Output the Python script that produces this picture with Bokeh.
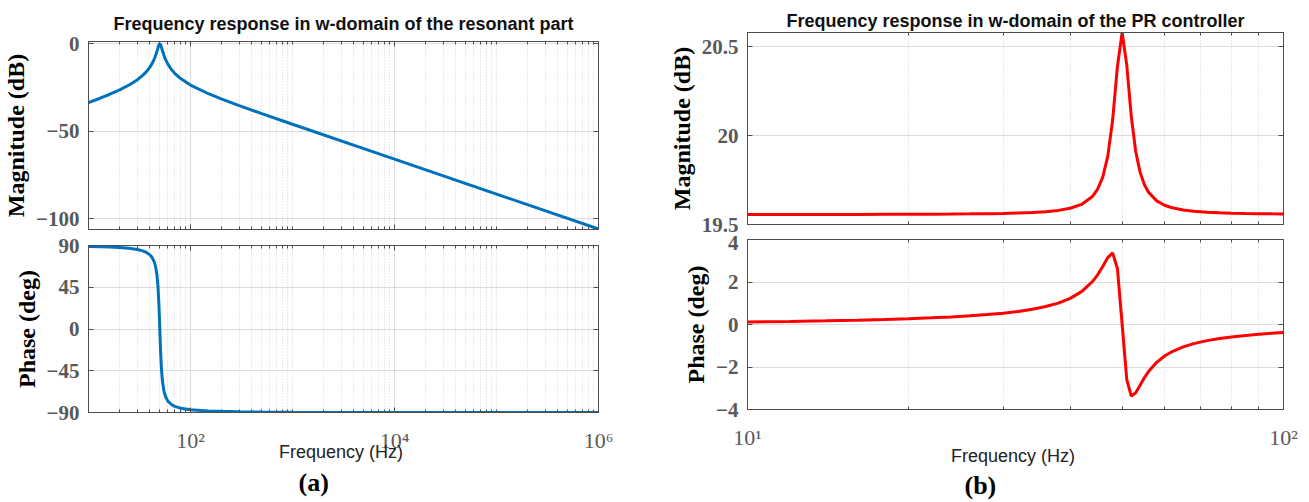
from bokeh.plotting import figure
from bokeh.models import FixedTicker, Range1d, LinearAxis, LogAxis, Title
from bokeh.layouts import row, column
from bokeh.embed import file_html
from bokeh.resources import INLINE

# ---------------- data ----------------
res_freq = [10, 13, 16, 20, 25, 30, 34, 37, 40, 42, 44, 45, 46, 47, 48, 49, 49.5, 50,
            50.5, 51, 52, 53, 55, 57, 60, 65, 70, 80, 100, 150, 200, 300, 500, 1000,
            1e4, 1e5, 1e6]
res_mag_db = [-33.63, -31.10, -28.96, -26.45, -23.54, -20.60, -18.03, -15.84, -13.27,
              -11.23, -8.79, -7.37, -5.78, -4.04, -2.22, -0.66, -0.17, 0.0, -0.17, -0.63,
              -2.08, -3.73, -6.67, -8.98, -11.60, -14.65, -16.81, -19.83, -23.54, -28.52,
              -31.48, -35.32, -39.91, -46.00, -66.02, -86.02, -106.02]
res_phase_deg = [89.05, 88.72, 88.37, 87.82, 86.95, 85.71, 84.22, 82.54, 79.92, 77.14,
                 72.67, 69.24, 64.40, 57.14, 45.59, 26.80, 14.10, 0.0, -13.97, -26.34,
                 -44.44, -55.55, -67.27, -73.07, -77.69, -81.43, -83.35, -85.31, -86.95,
                 -88.28, -88.78, -89.21, -89.54, -89.77, -89.98, -90.0, -90.0]

pr_freq = [10, 12, 14, 16, 18, 20, 22, 24, 26, 28, 30, 32, 34, 36, 38, 40, 42, 44,
           45, 46, 47, 48, 49, 50, 51, 52, 53, 54, 55, 56,
           58, 60, 62, 65, 68, 72, 76, 80, 85, 90, 95, 100]
pr_mag_db = [19.5563, 19.5565, 19.5567, 19.5569, 19.5573, 19.5577, 19.5582, 19.5589,
             19.5598, 19.5609, 19.5625, 19.5647, 19.5677, 19.5723, 19.5794, 19.5913,
             19.6128, 19.6573,
             19.6987, 19.7665, 19.8834, 20.0876, 20.3906, 20.58, 20.3967, 20.108,
             19.9108, 19.7946, 19.7252, 19.6816,
             19.633, 19.6082, 19.5939, 19.5816, 19.5746, 19.5691, 19.5658, 19.5637,
             19.5620, 19.5608, 19.5599, 19.5593]
pr_phase_deg = [0.1195, 0.1461, 0.1743, 0.2045, 0.2373, 0.2732, 0.3130, 0.3578, 0.4088,
                0.4657, 0.5344, 0.6165, 0.7172, 0.844, 1.0084, 1.2307, 1.5455, 2.0156,
                2.3378, 2.728, 3.1486, 3.3731, 2.6218, 0.0, -2.5888, -3.3654, -3.2123,
                -2.8539, -2.5072, -2.2148,
                -1.7801, -1.4844, -1.2738, -1.0536, -0.9015, -0.7595, -0.6589, -0.5839,
                -0.5129, -0.4588, -0.4159, -0.3811]

res_xticks = [100, 10000, 1000000]
res_xlabels = {100: "10²", 10000: "10⁴", 1000000: "10⁶"}
res_mag_ticks = [-100, -50, 0]
res_phase_ticks = [-90, -45, 0, 45, 90]

pr_xticks = [10, 100]
pr_xlabels = {10: "10¹", 100: "10²"}
pr_mag_ticks = [19.5, 20, 20.5]
pr_phase_ticks = [-4, -2, 0, 2, 4]

res_title = "Frequency response in w-domain of the resonant part"
pr_title = "Frequency response in w-domain of the PR controller"

# ---------------- styling helpers ----------------
FRAME = "#4d4d4d"
TICKC = "#595959"
SERIF = "Liberation Serif"
SANS = "Liberation Sans"

res_minor = [m * 10 ** e for e in range(1, 6) for m in range(1, 10)
             if not (m == 1 and e % 2 == 0)]
pr_minor = [m * 10 for m in range(2, 10)]


def make_fig(w, h, xr, yr, left, right, top, bottom):
    p = figure(width=w, height=h, x_axis_type="log",
               x_range=Range1d(*xr), y_range=Range1d(*yr),
               output_backend="svg", toolbar_location=None,
               min_border_left=left, min_border_right=right,
               min_border_top=top, min_border_bottom=bottom)
    p.outline_line_color = FRAME
    p.outline_line_width = 1
    p.background_fill_color = "white"
    p.border_fill_color = "white"
    return p


def hide_labels(a):
    a.major_label_text_font_size = "1px"
    a.major_label_text_color = None
    a.major_label_standoff = 0


def style_axes(p, xticks, xminor, yticks, xlabels, show_x, ylabel,
               lab_standoff=15, axlab_standoff=-8):
    xt = FixedTicker(ticks=xticks, minor_ticks=xminor)
    yt = FixedTicker(ticks=yticks)
    xa = p.xaxis[0]
    ya = p.yaxis[0]
    xa.ticker = xt
    ya.ticker = yt
    for a in (xa, ya):
        a.axis_line_color = FRAME
        a.major_tick_line_color = FRAME
        a.minor_tick_line_color = FRAME
        a.major_tick_in = 5
        a.major_tick_out = 0
        a.minor_tick_in = 3
        a.minor_tick_out = 0
    ya.minor_tick_line_color = None
    ya.major_label_text_font = SERIF
    ya.major_label_text_font_style = "bold"
    ya.major_label_text_font_size = "21px"
    ya.major_label_text_color = TICKC
    ya.major_label_standoff = 9
    ya.axis_label = ylabel
    ya.axis_label_text_font = SERIF
    ya.axis_label_text_font_style = "bold"
    ya.axis_label_text_font_size = "24px"
    ya.axis_label_text_color = "black"
    ya.axis_label_standoff = 4
    if show_x:
        xa.major_label_overrides = xlabels
        xa.major_label_text_font = SERIF
        xa.major_label_text_font_size = "22px"
        xa.major_label_text_color = TICKC
        xa.major_label_standoff = lab_standoff
        xa.axis_label = "Frequency  (Hz)"
        xa.axis_label_text_font = SANS
        xa.axis_label_text_font_style = "normal"
        xa.axis_label_text_font_size = "18px"
        xa.axis_label_text_color = "#222222"
        xa.axis_label_standoff = axlab_standoff
    else:
        hide_labels(xa)
    # box ticks on top / right
    ra = LinearAxis(ticker=FixedTicker(ticks=yticks), axis_line_color=FRAME,
                    major_tick_line_color=FRAME, major_tick_in=5, major_tick_out=0,
                    minor_tick_line_color=None)
    hide_labels(ra)
    p.add_layout(ra, "right")
    ta = LogAxis(ticker=FixedTicker(ticks=xticks, minor_ticks=xminor),
                 axis_line_color=FRAME, major_tick_line_color=FRAME,
                 minor_tick_line_color=FRAME, major_tick_in=5, major_tick_out=0,
                 minor_tick_in=3, minor_tick_out=0)
    hide_labels(ta)
    p.add_layout(ta, "above")
    p.xgrid.grid_line_color = "#dcdcdc"
    p.xgrid.minor_grid_line_color = "#d2d2d2"
    p.xgrid.minor_grid_line_dash = "1 2"
    p.ygrid.grid_line_color = "#dcdcdc"


def set_title(p, text, standoff):
    p.title.text = text
    p.title.align = "center"
    p.title.text_font = SANS
    p.title.text_font_style = "bold"
    p.title.text_font_size = "18px"
    p.title.text_color = "#111111"
    p.title.standoff = standoff


BLUE = "#0072BD"
RED = "#ff0000"

# ---------------- left: resonant part ----------------
tl = make_fig(650, 231, (10, 1e6), (-106.3, 1.4), 88, 52, 41, 2)
style_axes(tl, res_xticks, res_minor, res_mag_ticks, res_xlabels, False, "Magnitude (dB)")
set_title(tl, res_title, 15)
tl.line(res_freq, res_mag_db, line_color=BLUE, line_width=3)

bl = make_fig(650, 271, (10, 1e6), (-90, 90), 88, 52, 14, 90)
style_axes(bl, res_xticks, res_minor, res_phase_ticks, res_xlabels, True, "Phase (deg)",
           lab_standoff=15, axlab_standoff=-14)
bl.line(res_freq, res_phase_deg, line_color=BLUE, line_width=3)
bl.add_layout(Title(text="(a)", align="left", offset=210, standoff=3, text_font=SERIF,
                    text_font_size="26px", text_font_style="bold", text_color="black"),
              "below")

# ---------------- right: PR controller ----------------
tr = make_fig(659, 235, (10, 100), (19.5, 20.58), 97, 26, 32, 11)
style_axes(tr, pr_xticks, pr_minor, pr_mag_ticks, pr_xlabels, False, "Magnitude (dB)")
set_title(tr, pr_title, 3)
tr.line(pr_freq, pr_mag_db, line_color=RED, line_width=3)

br = make_fig(659, 267, (10, 100), (-4, 4), 97, 26, 4, 93)
style_axes(br, pr_xticks, pr_minor, pr_phase_ticks, pr_xlabels, True, "Phase (deg)",
           lab_standoff=15, axlab_standoff=-7)
br.line(pr_freq, pr_phase_deg, line_color=RED, line_width=3)
br.add_layout(Title(text="(b)", align="left", offset=217, standoff=0, text_font=SERIF,
                    text_font_size="26px", text_font_style="bold", text_color="black"),
              "below")

layout = row(column(tl, bl, spacing=0), column(tr, br, spacing=0), spacing=0)
open("out.html", "w").write(file_html(layout, INLINE))
